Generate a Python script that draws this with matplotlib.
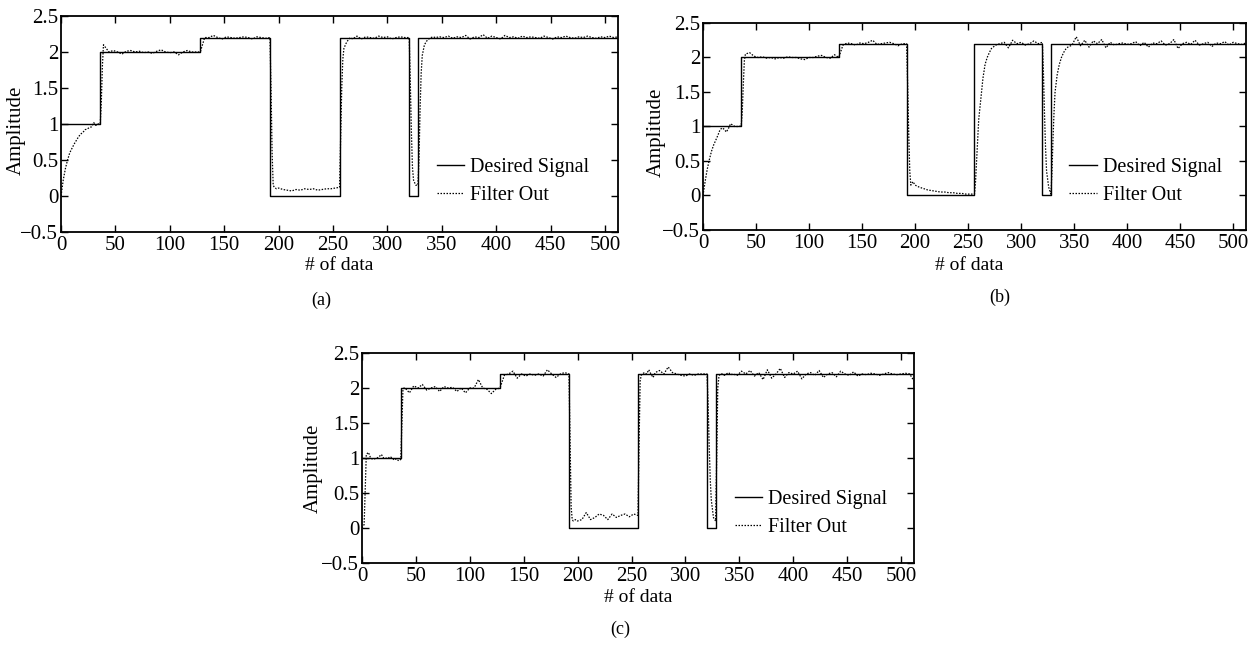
import numpy as np
import matplotlib
matplotlib.use("Agg")
import matplotlib.pyplot as plt

plt.rcParams['font.family'] = ['Liberation Serif', 'DejaVu Serif']
plt.rcParams['mathtext.fontset'] = 'stix'

# Desired signal (step breakpoints)
des_x = [0, 36, 36, 128, 128, 192, 192, 256, 256, 320, 320, 328, 328, 512]
des_y = [1, 1, 2, 2, 2.2, 2.2, 0, 0, 2.2, 2.2, 0, 0, 2.2, 2.2]

# sample positions of the filter output (denser near the jumps)
x_out = ([0, 2, 4, 6, 8, 10, 12, 14, 16, 18, 20, 22, 24, 26, 28, 30, 32, 34, 36]
         + [37, 38, 39]
         + list(range(40, 189, 4))
         + [192, 193, 194, 195, 196, 198]
         + list(range(200, 253, 4))
         + [256, 257, 258, 259, 260, 262, 264, 266, 268, 270]
         + list(range(272, 317, 4))
         + [320, 321, 322, 323, 324, 326]
         + [328, 329, 330, 331, 332, 334, 336, 338, 340, 342]
         + list(range(344, 513, 4)))

# filter output, panel (a)
out_a = ([0, 0.22, 0.38, 0.5, 0.6, 0.66, 0.72, 0.77, 0.82, 0.86, 0.88, 0.92, 0.93, 0.95, 0.96, 1.02, 0.98, 1.0, 1.0]
         + [1.3, 1.8, 2.1]
         + [2.08, 2.0, 2.02, 2.0, 1.97, 2.01, 2.02, 2.0, 2.01, 1.99, 2.0, 1.98, 2.01, 2.03, 2.0, 1.99, 2.0, 1.96, 2.0, 2.02, 2.0, 2.0, 2.0,
            2.2, 2.2, 2.23, 2.2, 2.18, 2.21, 2.2, 2.19, 2.2, 2.21, 2.2, 2.18, 2.21, 2.2, 2.19]
         + [2.2, 1.5, 0.6, 0.15, 0.12, 0.1]
         + [0.11, 0.09, 0.08, 0.07, 0.09, 0.08, 0.1, 0.09, 0.1, 0.08, 0.09, 0.1, 0.1, 0.11]
         + [0.12, 0.8, 1.5, 1.9, 2.05, 2.12, 2.17, 2.2, 2.18, 2.2]
         + [2.22, 2.18, 2.21, 2.2, 2.19, 2.22, 2.2, 2.21, 2.18, 2.2, 2.21, 2.2]
         + [2.2, 1.6, 0.9, 0.4, 0.22, 0.15]
         + [0.15, 0.5, 1.2, 1.7, 1.95, 2.1, 2.15, 2.18, 2.2, 2.21]
         + [2.2, 2.21, 2.2, 2.22, 2.19, 2.21, 2.2, 2.23, 2.18, 2.21,
            2.2, 2.24, 2.19, 2.22, 2.2, 2.18, 2.23, 2.2, 2.21, 2.19,
            2.22, 2.2, 2.21, 2.2, 2.19, 2.22, 2.2, 2.18, 2.21, 2.2,
            2.22, 2.2, 2.19, 2.21, 2.2, 2.22, 2.2, 2.19, 2.21, 2.2,
            2.22, 2.2, 2.21])

# filter output, panel (b)
out_b = ([0, 0.2, 0.38, 0.52, 0.64, 0.73, 0.8, 0.87, 0.95, 0.98, 0.96, 0.92, 0.97, 1.04, 1.02, 1.0, 1.0, 1.0, 1.01]
         + [1.2, 1.6, 1.95]
         + [2.05, 2.07, 2.02, 2.0, 2.01, 1.99, 2.0, 1.98, 2.0, 1.99, 2.01, 2.0, 2.0, 1.98, 1.97, 2.0, 2.0, 2.02, 2.03, 2.0, 1.99, 2.04, 2.0,
            2.18, 2.21, 2.2, 2.18, 2.21, 2.2, 2.22, 2.25, 2.19, 2.2, 2.21, 2.22, 2.2, 2.17, 2.2]
         + [2.2, 1.6, 0.9, 0.35, 0.15, 0.2]
         + [0.15, 0.12, 0.1, 0.08, 0.07, 0.06, 0.05, 0.05, 0.04, 0.04, 0.03, 0.03, 0.02, 0.02]
         + [0.02, 0.2, 0.5, 0.8, 1.1, 1.4, 1.7, 1.9, 2.0, 2.07]
         + [2.13, 2.18, 2.2, 2.22, 2.14, 2.25, 2.2, 2.22, 2.18, 2.2, 2.24, 2.2]
         + [2.22, 1.8, 1.2, 0.7, 0.35, 0.12]
         + [0.02, 0.3, 0.8, 1.2, 1.5, 1.75, 1.9, 2.0, 2.07, 2.12]
         + [2.15, 2.18, 2.3, 2.17, 2.25, 2.15, 2.24, 2.2, 2.26, 2.14,
            2.22, 2.18, 2.2, 2.21, 2.19, 2.2, 2.23, 2.17, 2.22, 2.15,
            2.21, 2.2, 2.24, 2.18, 2.2, 2.26, 2.13, 2.2, 2.22, 2.19,
            2.25, 2.18, 2.2, 2.22, 2.16, 2.21, 2.2, 2.23, 2.18, 2.22,
            2.2, 2.19, 2.21])

# filter output, panel (c)
out_c = ([0, 0.05, 1.05, 1.08, 1.0, 0.98, 0.99, 1.0, 1.02, 1.05, 1.0, 1.0, 0.99, 1.02, 1.0, 0.97, 0.99, 0.96, 0.98]
         + [1.5, 1.98, 2.0]
         + [2.0, 1.93, 2.03, 2.0, 2.05, 1.97, 2.0, 2.02, 1.95, 2.02, 2.0, 2.01, 1.95, 2.0, 1.93, 2.0, 2.0, 2.12, 2.0, 1.98, 1.92, 1.98, 2.0,
            2.18, 2.2, 2.24, 2.14, 2.2, 2.17, 2.2, 2.18, 2.2, 2.17, 2.26, 2.2, 2.15, 2.2, 2.22]
         + [2.2, 1.2, 0.3, 0.12, 0.1, 0.12]
         + [0.1, 0.12, 0.22, 0.12, 0.15, 0.2, 0.18, 0.12, 0.2, 0.15, 0.18, 0.2, 0.16, 0.2]
         + [0.18, 1.2, 2.1, 2.18, 2.2, 2.22, 2.2, 2.26, 2.2, 2.15]
         + [2.22, 2.25, 2.2, 2.3, 2.22, 2.2, 2.18, 2.17, 2.2, 2.18, 2.2, 2.2]
         + [2.2, 1.8, 1.2, 0.7, 0.4, 0.15]
         + [0.1, 1.0, 2.0, 2.15, 2.2, 2.2, 2.18, 2.2, 2.22, 2.19]
         + [2.2, 2.18, 2.24, 2.2, 2.25, 2.17, 2.22, 2.12, 2.26, 2.14,
            2.2, 2.28, 2.15, 2.22, 2.2, 2.24, 2.13, 2.2, 2.22, 2.18,
            2.25, 2.15, 2.2, 2.22, 2.16, 2.24, 2.2, 2.18, 2.23, 2.17,
            2.2, 2.19, 2.21, 2.2, 2.18, 2.2, 2.22, 2.2, 2.19, 2.2,
            2.21, 2.2, 2.1])

x_ticks = [0, 50, 100, 150, 200, 250, 300, 350, 400, 450, 500]
y_ticks = [-0.5, 0, 0.5, 1, 1.5, 2, 2.5]
y_ticklabels = ['\u22120.5', '0', '0.5', '1', '1.5', '2', '2.5']

# tag, data, axes rect, tag position, ylabel coords, xlabel coords
panels = [
    ('(a)', out_a, [0.0486, 0.6409, 0.4435, 0.3344], (0.256, 0.522), (-0.063, 0.47), (0.5, -0.115)),
    ('(b)', out_b, [0.5597, 0.644, 0.4323, 0.3204], (0.796, 0.526), (-0.068, 0.47), (0.49, -0.13)),
    ('(c)', out_c, [0.2882, 0.1285, 0.4395, 0.3251], (0.494, 0.012), (-0.071, 0.45), (0.5, -0.125)),
]

fig = plt.figure(figsize=(12.56, 6.46), dpi=100)

for tag, out, pos, tag_xy, ylab_xy, xlab_xy in panels:
    ax = fig.add_axes(pos)
    ax.plot(des_x, des_y, color='black', lw=1.0, label='Desired Signal')
    ax.plot(x_out, out, color='black', lw=0.9, ls=(0, (1.2, 1.2)), label='Filter Out')
    ax.set_xlim(0, 512)
    ax.set_ylim(-0.5, 2.5)
    ax.set_xticks(x_ticks)
    ax.set_yticks(y_ticks)
    ax.set_yticklabels(y_ticklabels)
    ax.tick_params(direction='in', top=True, right=True, length=5, width=1,
                   labelsize=15, pad=3)
    ax.tick_params(axis='y', pad=2)
    for sp in ax.spines.values():
        sp.set_linewidth(1.3)
    ax.set_xlabel('# of data', fontsize=14)
    ax.set_ylabel('Amplitude', fontsize=15)
    ax.xaxis.set_label_coords(*xlab_xy)
    ax.yaxis.set_label_coords(*ylab_xy)
    ax.legend(loc='center left', bbox_to_anchor=(0.675, 0.235), frameon=False,
              fontsize=14.5, handlelength=1.35, handletextpad=0.3, labelspacing=0.45,
              borderpad=0, borderaxespad=0)
    fig.text(tag_xy[0], tag_xy[1], tag, fontsize=13, ha='center', va='bottom')

fig.savefig('out.png', dpi=100)
